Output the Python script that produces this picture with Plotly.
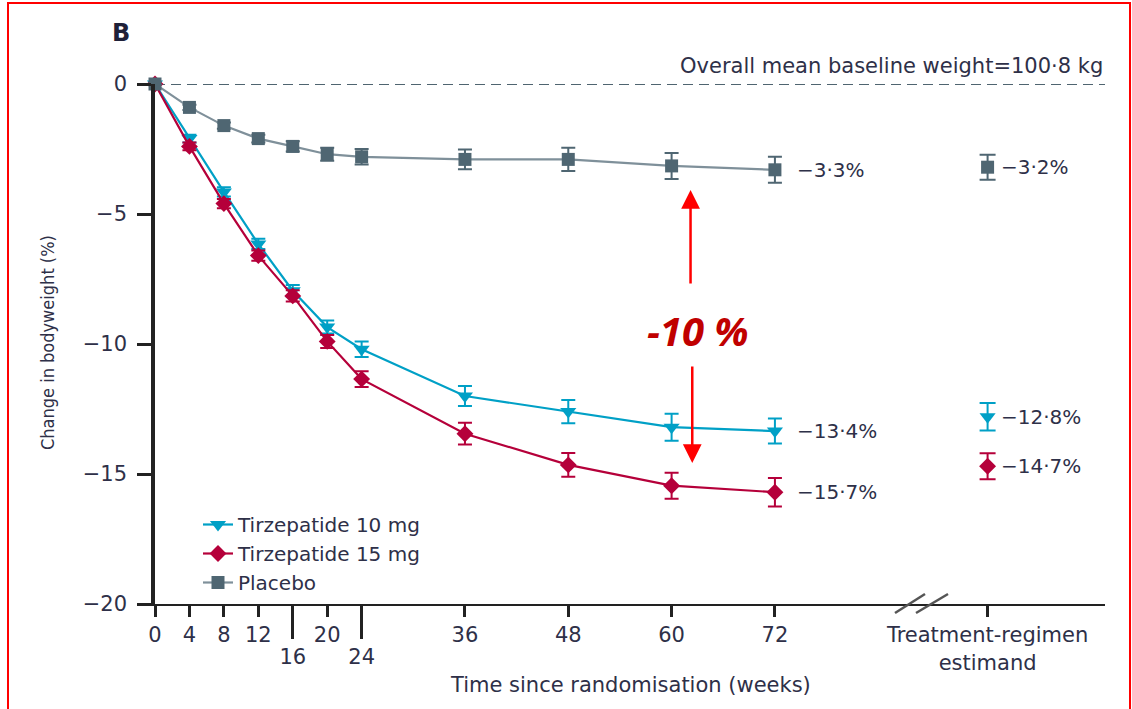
import plotly.graph_objects as go

# ---------------- data ----------------
weeks = [0, 4, 8, 12, 16, 20, 24, 36, 48, 60, 72]
tirz10 = [0, -2.1, -4.15, -6.15, -7.95, -9.35, -10.2, -12.0, -12.6, -13.2, -13.35]
tirz10_err = [0, 0.15, 0.18, 0.2, 0.22, 0.25, 0.3, 0.38, 0.45, 0.52, 0.48]
tirz15 = [0, -2.4, -4.6, -6.6, -8.15, -9.9, -11.35, -13.45, -14.65, -15.45, -15.7]
tirz15_err = [0, 0.15, 0.18, 0.2, 0.22, 0.25, 0.3, 0.42, 0.46, 0.5, 0.55]
placebo = [0, -0.9, -1.6, -2.1, -2.4, -2.7, -2.8, -2.9, -2.9, -3.15, -3.3]
placebo_err = [0, 0.1, 0.12, 0.15, 0.2, 0.25, 0.3, 0.38, 0.45, 0.5, 0.5]

estimand_x = 96.7
estimand_vals = {"tirz10": -12.8, "tirz15": -14.7, "placebo": -3.2}
estimand_err = {"tirz10": 0.53, "tirz15": 0.5, "placebo": 0.48}

end_labels = {"tirz10": "\u221213\u00b74%", "tirz15": "\u221215\u00b77%", "placebo": "\u22123\u00b73%"}
estimand_labels = {"tirz10": "\u221212\u00b78%", "tirz15": "\u221214\u00b77%", "placebo": "\u22123\u00b72%"}

x_tickvals = [0, 4, 8, 12, 20, 36, 48, 60, 72, estimand_x]
x_ticktext = ["0", "4", "8", "12", "20", "36", "48", "60", "72", "Treatment-regimen<br>estimand"]
x_low_tickvals = [16, 24]
x_low_ticktext = ["16", "24"]
y_tickvals = [0, -5, -10, -15, -20]
y_ticktext = ["0", "\u22125", "\u221210", "\u221215", "\u221220"]

# ---------------- style ----------------
C10 = "#00A0C6"
C15 = "#B5003A"
CPL = "#4F6672"
CPL_LINE = "#7F909A"
TXT = "#2E3048"
FONT = "DejaVu Sans, Verdana, sans-serif"

W_FIG, H_FIG = 1132, 709
L, R, T, B = 155, 1105, 84, 604
PW, PH = R - L, B - T
X_MAX = (R - L) / 8.61


def px(xp):
    return (xp - L) / PW


def py(yp):
    return (B - yp) / PH


fig = go.Figure()

series = [
    ("Tirzepatide 10 mg", tirz10, tirz10_err, C10, C10, "triangle-down", 14, "tirz10"),
    ("Tirzepatide 15 mg", tirz15, tirz15_err, C15, C15, "diamond", 13, "tirz15"),
    ("Placebo", placebo, placebo_err, CPL, CPL_LINE, "square", 13, "placebo"),
]

for name, ys, errs, mcol, lcol, sym, size, key in series:
    fig.add_trace(go.Scatter(
        x=weeks, y=ys, name=name, mode="lines+markers",
        line=dict(color=lcol, width=2.2),
        marker=dict(symbol=sym, size=size, color=mcol),
        error_y=dict(type="data", array=errs, visible=True, color=mcol, thickness=2, width=7),
        cliponaxis=False,
    ))

for name, ys, errs, mcol, lcol, sym, size, key in series:
    fig.add_trace(go.Scatter(
        x=[estimand_x], y=[estimand_vals[key]], mode="markers", showlegend=False,
        marker=dict(symbol=sym, size=size, color=mcol),
        error_y=dict(type="data", array=[estimand_err[key]], visible=True, color=mcol, thickness=2, width=8),
        cliponaxis=False,
    ))
    # end-of-line value labels
    fig.add_annotation(x=weeks[-1], y=ys[-1], text=end_labels[key], showarrow=False,
                       xanchor="left", yanchor="middle", xshift=20,
                       font=dict(family=FONT, size=20, color=TXT))
    fig.add_annotation(x=estimand_x, y=estimand_vals[key], text=estimand_labels[key], showarrow=False,
                       xanchor="left", yanchor="middle", xshift=11,
                       font=dict(family=FONT, size=20, color=TXT))

# invisible trace for secondary x-axis (long ticks at 16 and 24)
fig.add_trace(go.Scatter(x=x_low_tickvals, y=[None, None], xaxis="x2", showlegend=False,
                         hoverinfo="skip", mode="markers"))

# baseline dashed line
fig.add_shape(type="line", xref="x", yref="y", x0=0, x1=X_MAX, y0=0, y1=0,
              line=dict(color="#4F6470", width=2, dash="10px,6px"), layer="below")

# axis break marks
for xa, xb in [(895, 925), (916, 948)]:
    fig.add_shape(type="line", xref="paper", yref="paper",
                  x0=px(xa), x1=px(xb), y0=py(613), y1=py(594),
                  line=dict(color="#555555", width=2.5))

# red frame
fig.add_shape(type="rect", xref="paper", yref="paper",
              x0=px(8), x1=px(1130), y0=py(712), y1=py(3),
              line=dict(color="#FF0000", width=2))

# red arrows and -10 %
ARX = 62.2
fig.add_annotation(x=ARX, y=-(190 - T) / 26, ax=0, ay=95, text="", showarrow=True,
                   arrowhead=2, arrowsize=1.5, arrowwidth=2.5, arrowcolor="#FF0000")
fig.add_annotation(x=ARX + 0.2, y=-(463 - T) / 26, ax=0, ay=-98, text="", showarrow=True,
                   arrowhead=2, arrowsize=1.5, arrowwidth=2.5, arrowcolor="#FF0000")
fig.add_annotation(x=ARX + 0.9, y=-(330 - T) / 26, text="<b><i>-10 %</i></b>", showarrow=False,
                   xanchor="center", yanchor="middle",
                   font=dict(family="Open Sans, sans-serif", size=40, color="#C00000"))

# texts
fig.add_annotation(xref="paper", yref="paper", x=px(121), y=py(33), text="<b>B</b>",
                   showarrow=False, xanchor="center", yanchor="middle",
                   font=dict(family=FONT, size=24, color="#1E2038"))
fig.add_annotation(xref="paper", yref="paper", x=px(1105), y=py(66),
                   text="Overall mean baseline weight=100\u00b78 kg",
                   showarrow=False, xanchor="right", yanchor="middle",
                   font=dict(family=FONT, size=21, color=TXT))
fig.add_annotation(xref="paper", yref="paper", x=px(47), y=py(343),
                   text="Change in bodyweight (%)", textangle=-90,
                   showarrow=False, xanchor="center", yanchor="middle",
                   font=dict(family="DejaVu Sans Condensed, Liberation Sans Narrow, DejaVu Sans, sans-serif",
                             size=18, color=TXT))
fig.add_annotation(xref="paper", yref="paper", x=px(630), y=py(685),
                   text="Time since randomisation (weeks)",
                   showarrow=False, xanchor="center", yanchor="middle",
                   font=dict(family=FONT, size=21, color=TXT))

fig.update_layout(
    width=W_FIG, height=H_FIG,
    margin=dict(l=L, r=W_FIG - R, t=T, b=H_FIG - B, pad=0),
    paper_bgcolor="white", plot_bgcolor="white",
    font=dict(family=FONT, size=21, color=TXT),
    showlegend=True,
    legend=dict(x=px(198), y=py(505), xanchor="left", yanchor="top",
                bgcolor="rgba(0,0,0,0)", font=dict(family=FONT, size=20, color=TXT),
                tracegroupgap=0),
    xaxis=dict(range=[0, X_MAX], showgrid=False, zeroline=False,
               showline=True, linecolor="#222222", linewidth=2,
               ticks="outside", ticklen=11, tickwidth=2.5, tickcolor="#222222",
               tickvals=x_tickvals, ticktext=x_ticktext,
               tickfont=dict(family=FONT, size=21, color=TXT)),
    xaxis2=dict(range=[0, X_MAX], overlaying="x", anchor="y", side="bottom",
                showgrid=False, zeroline=False, showline=False,
                ticks="outside", ticklen=34, tickwidth=2.5, tickcolor="#222222",
                tickvals=x_low_tickvals, ticktext=x_low_ticktext,
                tickfont=dict(family=FONT, size=21, color=TXT)),
    yaxis=dict(range=[-20, 0], showgrid=False, zeroline=False,
               showline=True, linecolor="#222222", linewidth=3.5,
               ticks="outside", ticklen=14, tickwidth=2.5, tickcolor="#222222",
               tickvals=y_tickvals, ticktext=y_ticktext, ticklabelstandoff=6,
               tickfont=dict(family=FONT, size=21, color=TXT)),
)

fig.write_html("out.html")
